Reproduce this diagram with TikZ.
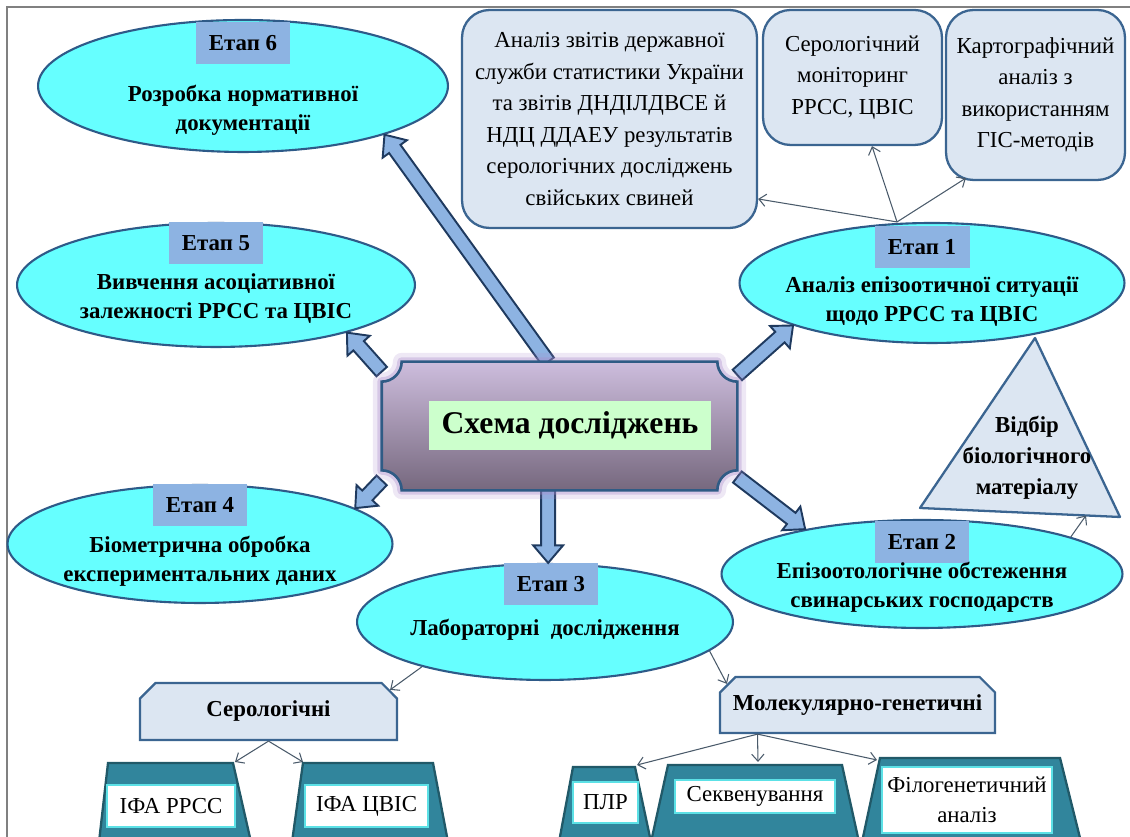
\documentclass[tikz,border=0pt]{standalone}
\usepackage{fontspec}
\setmainfont{LiberationSerif}[Extension=.ttf, UprightFont=*-Regular, BoldFont=*-Bold,
  ItalicFont=*-Italic, BoldItalicFont=*-BoldItalic]
\usetikzlibrary{calc,shapes.geometric,shapes.misc,arrows.meta}

\definecolor{ellcyan}{HTML}{66FFFF}
\definecolor{ellborder}{HTML}{2E5A88}
\definecolor{labblue}{HTML}{8DB3E2}
\definecolor{boxfill}{HTML}{DCE6F2}
\definecolor{boxborder}{HTML}{3B6591}
\definecolor{trapfill}{HTML}{31859C}
\definecolor{trapborder}{HTML}{215968}
\definecolor{innerborder}{HTML}{5CE1E6}
\definecolor{fatlight}{HTML}{8DB3E2}
\definecolor{fatdark}{HTML}{1F3A5F}
\definecolor{linkgray}{HTML}{4A5A6A}
\definecolor{plaquetop}{HTML}{CDBDDD}
\definecolor{plaquebot}{HTML}{76687E}
\definecolor{plaqueborder}{HTML}{2F5B85}
\definecolor{glowviolet}{HTML}{A98BCB}
\definecolor{titlegreen}{HTML}{CCFFCC}
\definecolor{framegray}{HTML}{808080}

\newcommand\fatarrow[2]{%
  \coordinate (fahead) at ($(#2)!10pt!(#1)$);
  \filldraw[fatarrow] ($(#1)!4pt!90:(#2)$) -- ($(fahead)!4pt!90:(#2)$)
    -- ($(fahead)!8.5pt!90:(#2)$) -- (#2) -- ($(fahead)!8.5pt!-90:(#2)$)
    -- ($(fahead)!4pt!-90:(#2)$) -- ($(#1)!4pt!-90:(#2)$) -- cycle;}

\newcommand\plaquepath{([yshift=-0.4cm]hub.north west) arc[start angle=-90,end angle=0,radius=0.4cm]
  -- ([xshift=-0.4cm]hub.north east) arc[start angle=180,end angle=270,radius=0.4cm]
  -- ([yshift=0.4cm]hub.south east) arc[start angle=90,end angle=180,radius=0.4cm]
  -- ([xshift=0.4cm]hub.south west) arc[start angle=0,end angle=90,radius=0.4cm] -- cycle}

\begin{document}
\begin{tikzpicture}[x=0.02cm,y=0.02cm,
  etap/.style={ellipse, draw=ellborder, line width=1.2pt, fill=ellcyan, inner sep=0pt},
  etaplabel/.style={fill=labblue, minimum width=1.9cm, minimum height=0.84cm, anchor=north,
    inner sep=0pt, font=\fontsize{13}{16}\selectfont\bfseries},
  desc/.style={align=center, inner sep=0pt, font=\fontsize{13}{16.5}\selectfont\bfseries},
  info/.style={rounded corners=0.55cm, draw=boxborder, line width=1.3pt, fill=boxfill,
    align=center, inner sep=0pt, font=\fontsize{13}{17.9}\selectfont},
  group/.style={chamfered rectangle, chamfered rectangle corners={north west,north east},
    chamfered rectangle xsep=0.2cm, draw=boxborder, line width=1.3pt, fill=boxfill,
    inner sep=0pt, font=\fontsize{13}{16}\selectfont\bfseries},
  trap/.style={draw=trapborder, line width=1.3pt, fill=trapfill},
  method/.style={draw=innerborder, line width=1pt, fill=white, align=center, inner sep=0pt,
    font=\fontsize{13}{17}\selectfont},
  tri/.style={draw=boxborder, line width=1.3pt, fill=boxfill, line join=round},
  link/.style={draw=linkgray, line width=0.6pt, -{Straight Barb[length=4pt,width=7pt]}},
  fatarrow/.style={draw=fatdark, line width=1.1pt, fill=fatlight, line join=miter}]

\clip (0,0) rectangle (1130,837);
\draw[framegray, line width=0.7pt] (7,-5) -- (7,830) -- (1135,830);

\node[etap, minimum width=8.2cm, minimum height=2.64cm] (e6) at (243,751) {};
\node[etaplabel] (l6) at ([yshift=-0.06cm]e6.north) {Етап 6};
\node[desc] (t6) at ([yshift=-0.48cm]e6.center) {Розробка нормативної\\документації};

\node[etap, minimum width=7.96cm, minimum height=2.48cm] (e5) at (216,552) {};
\node[etaplabel] (l5) at (e5.north) {Етап 5};
\node[desc] (t5) at ([yshift=-0.28cm]e5.center) {Вивчення асоціативної\\залежності РРСС та ЦВІС};

\node[etap, minimum width=7.7cm, minimum height=2.36cm] (e4) at (200,293) {};
\node[etaplabel] (l4) at (e4.north) {Етап 4};
\node[desc] (t4) at ([yshift=-0.34cm]e4.center) {Біометрична обробка\\експериментальних даних};

\node[etap, minimum width=7.52cm, minimum height=2.32cm] (e3) at (545,215) {};
\node[etaplabel] (l3) at ([xshift=0.12cm]e3.north) {Етап 3};
\node[desc] (t3) at ([yshift=-0.16cm]e3.center) {Лабораторні\ \ дослідження};

\node[etap, minimum width=8.02cm, minimum height=2.16cm] (e2) at (922,263) {};
\node[etaplabel] (l2) at ([yshift=-0.04cm]e2.north) {Етап 2};
\node[desc] (t2) at ([yshift=-0.26cm]e2.center) {Епізоотологічне обстеження\\свинарських господарств};

\node[etap, minimum width=7.7cm, minimum height=2.4cm] (e1) at (932,554) {};
\node[etaplabel] (l1) at ([xshift=-0.2cm,yshift=-0.08cm]e1.north) {Етап 1};
\node[desc] (t1) at ([yshift=-0.38cm]e1.center) {Аналіз епізоотичної ситуації\\щодо РРСС та ЦВІС};

\node[info, minimum width=5.9cm, minimum height=4.36cm] (src1) at (609.5,718)
  {Аналіз звітів державної\\служби статистики України\\та звітів ДНДІЛДВСЕ й\\НДЦ ДДАЕУ результатів\\серологічних досліджень\\свійських свиней};
\node[info, minimum width=3.58cm, minimum height=2.7cm] (src2) at (852.5,759.5)
  {Серологічний\\моніторинг\\РРСС, ЦВІС};
\node[info, minimum width=3.58cm, minimum height=3.4cm] (src3) at (1035.5,742)
  {Картографічний\\аналіз з\\використанням\\ГІС-методів};

\coordinate (e1top) at ([xshift=-0.7cm]e1.north);
\draw[link] (e1top) -- ([yshift=-1.6cm]src1.east);
\draw[link] (e1top) -- ([xshift=0.39cm]src2.south);
\draw[link] (e1top) -- ([xshift=0.42cm,yshift=0.06cm]src3.south west);

\node[minimum width=7.1cm, minimum height=2.56cm, inner sep=0pt] (hub) at (559.5,411) {};
\coordinate (e3in) at (hub.260 |- e3.north);
\fatarrow{hub.100}{e6.-19}
\fatarrow{hub.163}{e5.-20}
\fatarrow{hub.197}{e4.13}
\fatarrow{hub.260}{e3in}
\fatarrow{hub.-16}{e2.159}
\fatarrow{hub.16}{e1.197}

\draw[glowviolet, line width=10pt, opacity=0.2, line join=round] \plaquepath;
\draw[glowviolet, line width=5pt, opacity=0.35, line join=round] \plaquepath;
\shadedraw[top color=plaquetop, bottom color=plaquebot, draw=plaqueborder, line width=1.5pt] \plaquepath;
\node[fill=titlegreen, minimum width=5.66cm, minimum height=0.98cm, inner sep=0pt,
  font=\fontsize{18}{20}\selectfont\bfseries] (title) at (570,411.5) {Схема досліджень};

\coordinate (tritop) at (1035,499);
\coordinate (trileft) at (920,329);
\coordinate (triright) at (1120,320);
\draw[tri] (tritop) -- (trileft) -- (triright) -- cycle;
\node[desc, font=\fontsize{13}{17.6}\selectfont\bfseries] (sample) at (1027,379)
  {Відбір\\біологічного\\матеріалу};
\draw[link] (e2.14) -- ($(trileft)!0.83!(triright)$);

\node[group, minimum width=5.14cm, minimum height=1.14cm] (sero) at (268.5,125.5) {Серологічні};
\node[group, minimum width=5.5cm, minimum height=1.12cm] (mol) at (857.5,132) {Молекулярно-генетичні};
\draw[link] (e3.-160) -- (sero.north east);
\draw[link] (e3.-10) -- (mol.north west);

\draw[trap] (99,-5) -- (108,74) -- (233,74) -- (251,-5) -- cycle;
\draw[trap] (292,-5) -- (303,74) -- (433,74) -- (448,-5) -- cycle;
\draw[trap] (559,-5) -- (573,70) -- (635,70) -- (651,-5) -- cycle;
\draw[trap] (651,-5) -- (668,72) -- (842,72) -- (859,-5) -- cycle;
\draw[trap] (862,-5) -- (880,79) -- (1060,79) -- (1081,-5) -- cycle;

\node[method, minimum width=2.56cm, minimum height=0.84cm] (ifa1) at (171,31) {ІФА РРСС};
\node[method, minimum width=2.46cm, minimum height=0.84cm] (ifa2) at (366.5,31) {ІФА ЦВІС};
\node[method, minimum width=1.3cm, minimum height=0.82cm] (plr) at (605.5,34.5) {ПЛР};
\node[method, minimum width=3.2cm, minimum height=0.66cm] (seq) at (755,40.5) {Секвенування};
\node[method, minimum width=3.4cm, minimum height=1.32cm] (phyl) at (967,37) {Філогенетичний\\аналіз};

\coordinate (ifa1top) at (235,75);
\coordinate (ifa2top) at (303,75);
\coordinate (molout) at ([xshift=-2cm]mol.south);
\coordinate (plrtop) at (637,72);
\coordinate (seqtop) at (758,75);
\coordinate (phyltop) at (877,77);
\draw[link] (sero.south) -- (ifa1top);
\draw[link] (sero.south) -- (ifa2top);
\draw[link] (molout) -- (plrtop);
\draw[link] (molout) -- (seqtop);
\draw[link] (molout) -- (phyltop);
\end{tikzpicture}
\end{document}
